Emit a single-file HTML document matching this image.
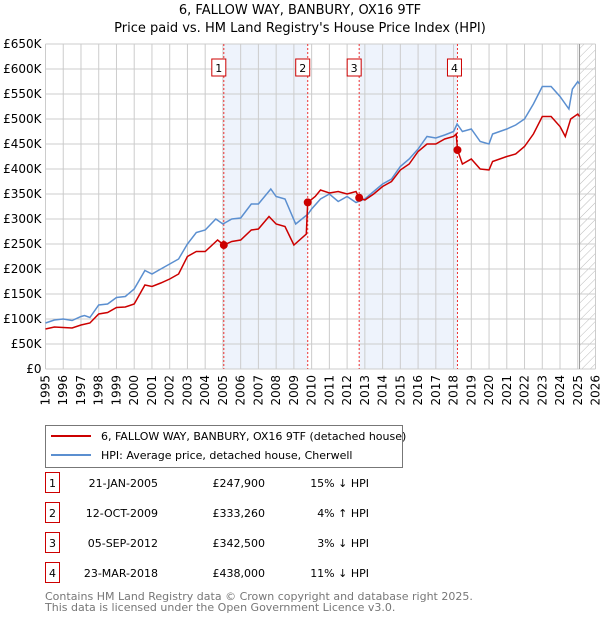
<!DOCTYPE html>
<html><head><meta charset="utf-8"><style>
body{margin:0;background:#fff;font-family:"Liberation Sans","DejaVu Sans",sans-serif;}
svg text{font-family:"DejaVu Sans","Liberation Sans",sans-serif;}
</style></head><body>
<svg id="c" width="600" height="620" xmlns="http://www.w3.org/2000/svg"></svg>
<script>
const hpiYears=[1995,1995.5,1996,1996.5,1997,1997.2,1997.5,1998,1998.5,1999,1999.5,2000,2000.6,2001,2001.5,2002,2002.5,2003,2003.5,2004,2004.6,2005,2005.5,2006,2006.6,2007,2007.7,2008,2008.5,2009.1,2009.8,2010,2010.5,2011,2011.5,2012,2012.5,2013,2013.5,2014,2014.5,2015,2015.5,2016,2016.5,2017,2017.5,2018,2018.2,2018.5,2019,2019.5,2020,2020.2,2021,2021.5,2022,2022.5,2023,2023.5,2024,2024.5,2024.7,2025,2025.1];
const hpiValues=[92,98,100,97,105,107,103,128,130,143,145,160,197,190,200,210,220,250,273,278,300,290,300,302,330,330,360,345,340,290,310,320,340,350,335,345,333,340,355,370,380,405,420,440,465,462,468,475,490,475,480,455,450,470,480,488,500,530,565,565,545,520,560,575,570];
const priceYears=[1995,1995.5,1996,1996.5,1997,1997.5,1998,1998.5,1999,1999.5,2000,2000.6,2001,2001.5,2002,2002.5,2003,2003.5,2004,2004.7,2005.05,2005.5,2006,2006.6,2007,2007.6,2008,2008.5,2009,2009.7,2009.78,2010.2,2010.5,2011,2011.5,2012,2012.5,2012.68,2013,2013.5,2014,2014.5,2015,2015.5,2016,2016.5,2017,2017.5,2018,2018.15,2018.22,2018.5,2019,2019.5,2020,2020.2,2021,2021.5,2022,2022.5,2023,2023.5,2024,2024.3,2024.6,2025,2025.1];
const priceValues=[80,84,83,82,88,92,110,113,123,124,130,168,165,172,180,190,225,235,235,258,248,255,258,278,280,305,290,285,248,270,333,345,358,352,355,350,355,342.5,338,350,365,375,398,410,435,450,450,460,465,470,438,410,420,400,398,415,425,430,445,470,505,505,485,465,500,510,505];
const saleYears=[2005.05,2009.78,2012.68,2018.22];
const saleValues=[247.9,333.26,342.5,438];
const saleLabels=["1","2","3","4"];
const yTicks=[0,50,100,150,200,250,300,350,400,450,500,550,600,650];
const xTicks=[1995,1996,1997,1998,1999,2000,2001,2002,2003,2004,2005,2006,2007,2008,2009,2010,2011,2012,2013,2014,2015,2016,2017,2018,2019,2020,2021,2022,2023,2024,2025,2026];
const tableDates=["21-JAN-2005","12-OCT-2009","05-SEP-2012","23-MAR-2018"];
const tablePrices=["£247,900","£333,260","£342,500","£438,000"];
const tableHpi=["15% ↓ HPI","4% ↑ HPI","3% ↓ HPI","11% ↓ HPI"];

const X0=45.5,X1=595.5,Y0=369,Y1=44;
const xs=y=>X0+(y-1995)/(2026-1995)*(X1-X0);
const ys=v=>Y0-(v/650)*(Y0-Y1);
const svg=document.getElementById('c');
const NS="http://www.w3.org/2000/svg";
function el(tag,attrs,parent){const e=document.createElementNS(NS,tag);for(const k in attrs)e.setAttribute(k,attrs[k]);(parent||svg).appendChild(e);return e;}
function txt(s,attrs,parent){const e=el('text',attrs,parent);e.textContent=s;return e;}

let t=txt("6, FALLOW WAY, BANBURY, OX16 9TF",{x:300,y:14,'text-anchor':'middle','font-size':13});

t=txt("Price paid vs. HM Land Registry's House Price Index (HPI)",{x:300,y:32,'text-anchor':'middle','font-size':13});


let r=el('rect',{x:xs(saleYears[0]),y:Y1,width:xs(saleYears[1])-xs(saleYears[0]),height:Y0-Y1,fill:'#eef3fc'});

r=el('rect',{x:xs(saleYears[2]),y:Y1,width:xs(saleYears[3])-xs(saleYears[2]),height:Y0-Y1,fill:'#eef3fc'});

const defs=el('defs',{});
const pat=el('pattern',{id:'h',width:6,height:6,patternUnits:'userSpaceOnUse',patternTransform:'rotate(45)'},defs);
el('line',{x1:0,y1:0,x2:0,y2:6,stroke:'#bbb','stroke-width':1},pat);
r=el('rect',{x:xs(2025.1),y:Y1,width:X1-xs(2025.1),height:Y0-Y1,fill:'url(#h)'});


yTicks.forEach(v=>{
  let l=el('line',{x1:X0,x2:X1,y1:ys(v),y2:ys(v),stroke:'#ccc','stroke-width':1});
  
  let tt=txt(v===0?'£0':'£'+v+'K',{x:X0-4,y:ys(v)+4,'text-anchor':'end','font-size':12});
  
});
xTicks.forEach(y=>{
  let l=el('line',{x1:xs(y),x2:xs(y),y1:Y1,y2:Y0,stroke:'#ccc','stroke-width':1});
  
  let tt=txt(String(y),{x:0,y:0,'text-anchor':'end','font-size':12,transform:`translate(${xs(y)+4},${Y0+6}) rotate(-90)`});
  
});
let ax=el('line',{x1:xs(2025.1),x2:xs(2025.1),y1:Y1,y2:Y0,stroke:'#999'});


saleYears.forEach((y,i)=>{
  let l=el('line',{x1:xs(y),x2:xs(y),y1:Y1,y2:Y0,stroke:'#e33','stroke-width':1,'stroke-dasharray':'2,2'});
  
  const bx=xs(y)-10-(i===3?0:2);
  let b=el('rect',{x:bx,y:59,width:14,height:17,fill:'#fff',stroke:'#c00','stroke-width':1});
  
  let tt=txt(saleLabels[i],{x:bx+7,y:72,'text-anchor':'middle','font-size':11});
  
});

function pts(a,b){return a.map((y,i)=>xs(y).toFixed(1)+','+ys(b[i]).toFixed(1)).join(' ');}
let p=el('polyline',{points:pts(hpiYears,hpiValues),fill:'none',stroke:'#5b8fd0','stroke-width':1.5});

p=el('polyline',{points:pts(priceYears,priceValues),fill:'none',stroke:'#cc0000','stroke-width':1.5});

saleYears.forEach((y,i)=>{
  let c=el('circle',{cx:xs(y),cy:ys(saleValues[i]),r:4,fill:'#cc0000'});
  
});

let lg=el('rect',{x:45.5,y:425.5,width:357,height:42,fill:'#fff',stroke:'#777'});

let ll=el('line',{x1:51,x2:91,y1:436,y2:436,stroke:'#cc0000','stroke-width':2});

t=txt("6, FALLOW WAY, BANBURY, OX16 9TF (detached house)",{x:101,y:440,'font-size':11});

ll=el('line',{x1:51,x2:91,y1:455,y2:455,stroke:'#5b8fd0','stroke-width':2});

t=txt("HPI: Average price, detached house, Cherwell",{x:101,y:459,'font-size':11});


tableDates.forEach((d,i)=>{
  const cy=483+i*30;
  let b=el('rect',{x:45.5,y:cy-10.5,width:14,height:20,fill:'#fff',stroke:'#c00'});
  
  let tt=txt(saleLabels[i],{x:52.5,y:cy+4,'text-anchor':'middle','font-size':11});
  
  tt=txt(d,{x:158,y:cy+4,'text-anchor':'end','font-size':11});
  
  tt=txt(tablePrices[i],{x:265,y:cy+4,'text-anchor':'end','font-size':11});
  
  tt=txt(tableHpi[i],{x:369,y:cy+4,'text-anchor':'end','font-size':11});
  
});
t=txt("Contains HM Land Registry data © Crown copyright and database right 2025.",{x:45,y:600,'font-size':11,fill:'#777'});

t=txt("This data is licensed under the Open Government Licence v3.0.",{x:45,y:611,'font-size':11,fill:'#777'});

</script>
</body></html>
